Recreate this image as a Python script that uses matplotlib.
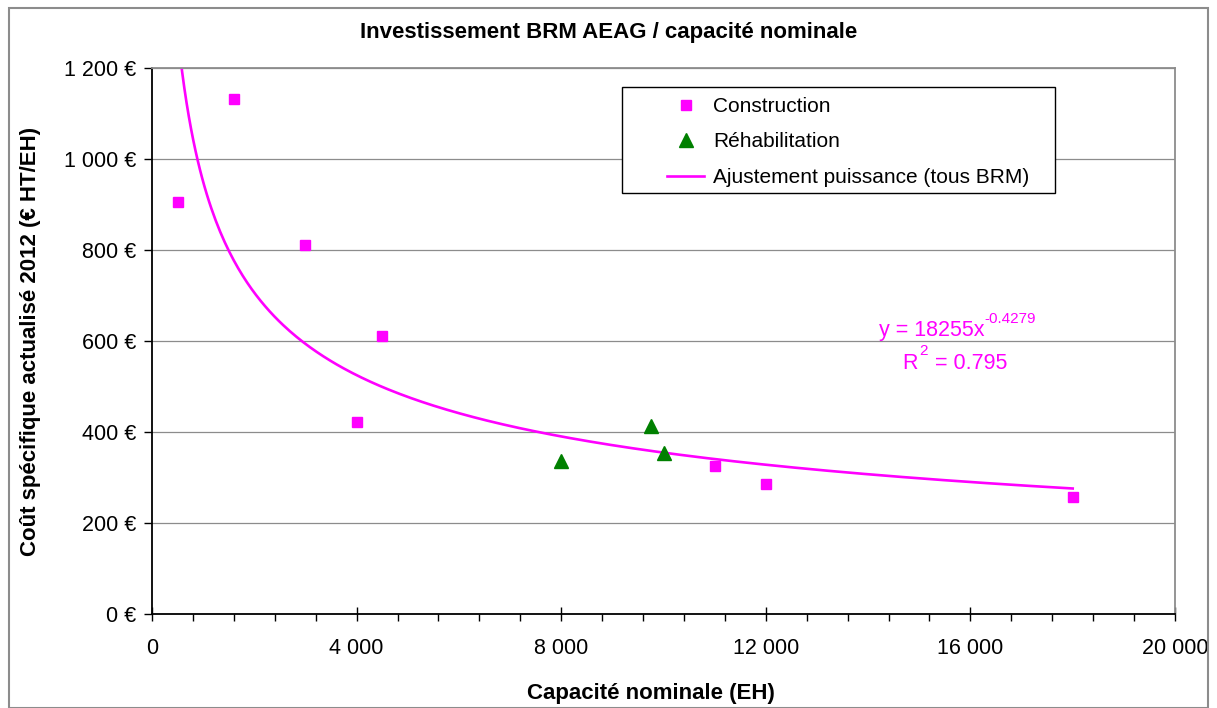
import numpy as np
import matplotlib.pyplot as plt
from matplotlib.ticker import FuncFormatter, MultipleLocator
from matplotlib.patches import Rectangle

plt.rcParams['font.family'] = ['Liberation Sans', 'DejaVu Sans']

# Construction (magenta squares)
constr_x = [500, 1600, 3000, 4000, 4500, 11000, 12000, 18000]
constr_y = [905, 1132, 811, 422, 611, 325, 286, 257]

# Réhabilitation (green triangles)
rehab_x = [8000, 9750, 10000]
rehab_y = [336, 413, 354]

# power fit shown on the chart
FIT_A = 18255
FIT_B = -0.4279
FIT_R2 = 0.795

fig = plt.figure(figsize=(12.17, 7.08), dpi=100)
ax = fig.add_axes([0.1249, 0.1328, 0.8406, 0.7712])

fit_x = np.linspace(min(constr_x + rehab_x), max(constr_x + rehab_x), 400)
fit_y = FIT_A * fit_x ** FIT_B

ax.plot(constr_x, constr_y, linestyle='none', marker='s', markersize=6.5,
        color='#FF00FF', label='Construction', zorder=3)
ax.plot(rehab_x, rehab_y, linestyle='none', marker='^', markersize=9.5,
        color='#008000', label='Réhabilitation', zorder=3)
ax.plot(fit_x, fit_y, color='#FF00FF', lw=1.9, label='Ajustement puissance (tous BRM)', zorder=2)

ax.set_xlim(0, 20000)
ax.set_ylim(0, 1200)
ax.xaxis.set_major_locator(MultipleLocator(4000))
ax.xaxis.set_minor_locator(MultipleLocator(800))
ax.yaxis.set_major_locator(MultipleLocator(200))

ax.xaxis.set_major_formatter(FuncFormatter(lambda v, p: f"{int(v):,}".replace(",", " ")))
ax.yaxis.set_major_formatter(FuncFormatter(lambda v, p: f"{int(v):,} €".replace(",", " ")))

ax.tick_params(axis='x', which='major', direction='inout', length=10, width=1, labelsize=15.5, pad=12)
ax.tick_params(axis='x', which='minor', direction='out', length=5, width=1)
ax.tick_params(axis='y', which='major', direction='out', length=6, width=1, labelsize=15.5, pad=5)

ax.grid(axis='y', color='#8c8c8c', lw=0.9)
ax.set_axisbelow(True)
for s in ['left', 'bottom']:
    ax.spines[s].set_color('black')
    ax.spines[s].set_linewidth(1.3)
for s in ['top', 'right']:
    ax.spines[s].set_color('#8c8c8c')
    ax.spines[s].set_linewidth(1.3)

ax.set_xlabel('Capacité nominale (EH)', fontsize=16, fontweight='bold')
ax.xaxis.set_label_coords(0.488, -0.127)
ax.set_ylabel('Coût spécifique actualisé 2012 (€ HT/EH)', fontsize=16, fontweight='bold', labelpad=17)
fig.text(0.5, 0.954, 'Investissement BRM AEAG / capacité nominale', ha='center', va='center',
         fontsize=16, fontweight='bold')

eq = ax.text(15250, 622, f'y = {FIT_A}x', color='#FF00FF', fontsize=15.5, ha='center', va='center')
ax.annotate(f'{FIT_B}', xy=(1, 0.75), xycoords=eq, color='#FF00FF', fontsize=11,
            ha='left', va='bottom')
r2 = ax.text(14980, 550, 'R', color='#FF00FF', fontsize=15.5, ha='right', va='center')
ax.annotate(f' = {FIT_R2}', xy=(1, 0.5), xycoords=r2, xytext=(8, 0), textcoords='offset points',
            color='#FF00FF', fontsize=15.5, ha='left', va='center')
ax.annotate('2', xy=(1, 0.75), xycoords=r2, xytext=(1, 0), textcoords='offset points',
            color='#FF00FF', fontsize=11, ha='left', va='bottom')

# legend without its own frame; the box is drawn separately so padding matches
leg = ax.legend(loc='upper left', bbox_to_anchor=(0.5034, 0.947), fontsize=15, frameon=False,
                borderpad=0, borderaxespad=0, handlelength=1.8, handletextpad=0.4,
                labelspacing=0.79)
ax.add_patch(Rectangle((0.4594, 0.7711), 0.4233, 0.1941, transform=ax.transAxes,
                       fill=True, facecolor='white', edgecolor='black', lw=1.0, zorder=4))
leg.set_zorder(5)

fig.patches.append(Rectangle((0.007, 0.0), 0.986, 0.988, transform=fig.transFigure,
                             fill=False, edgecolor='#8c8c8c', lw=1.5))

fig.savefig('out.png', dpi=100)
